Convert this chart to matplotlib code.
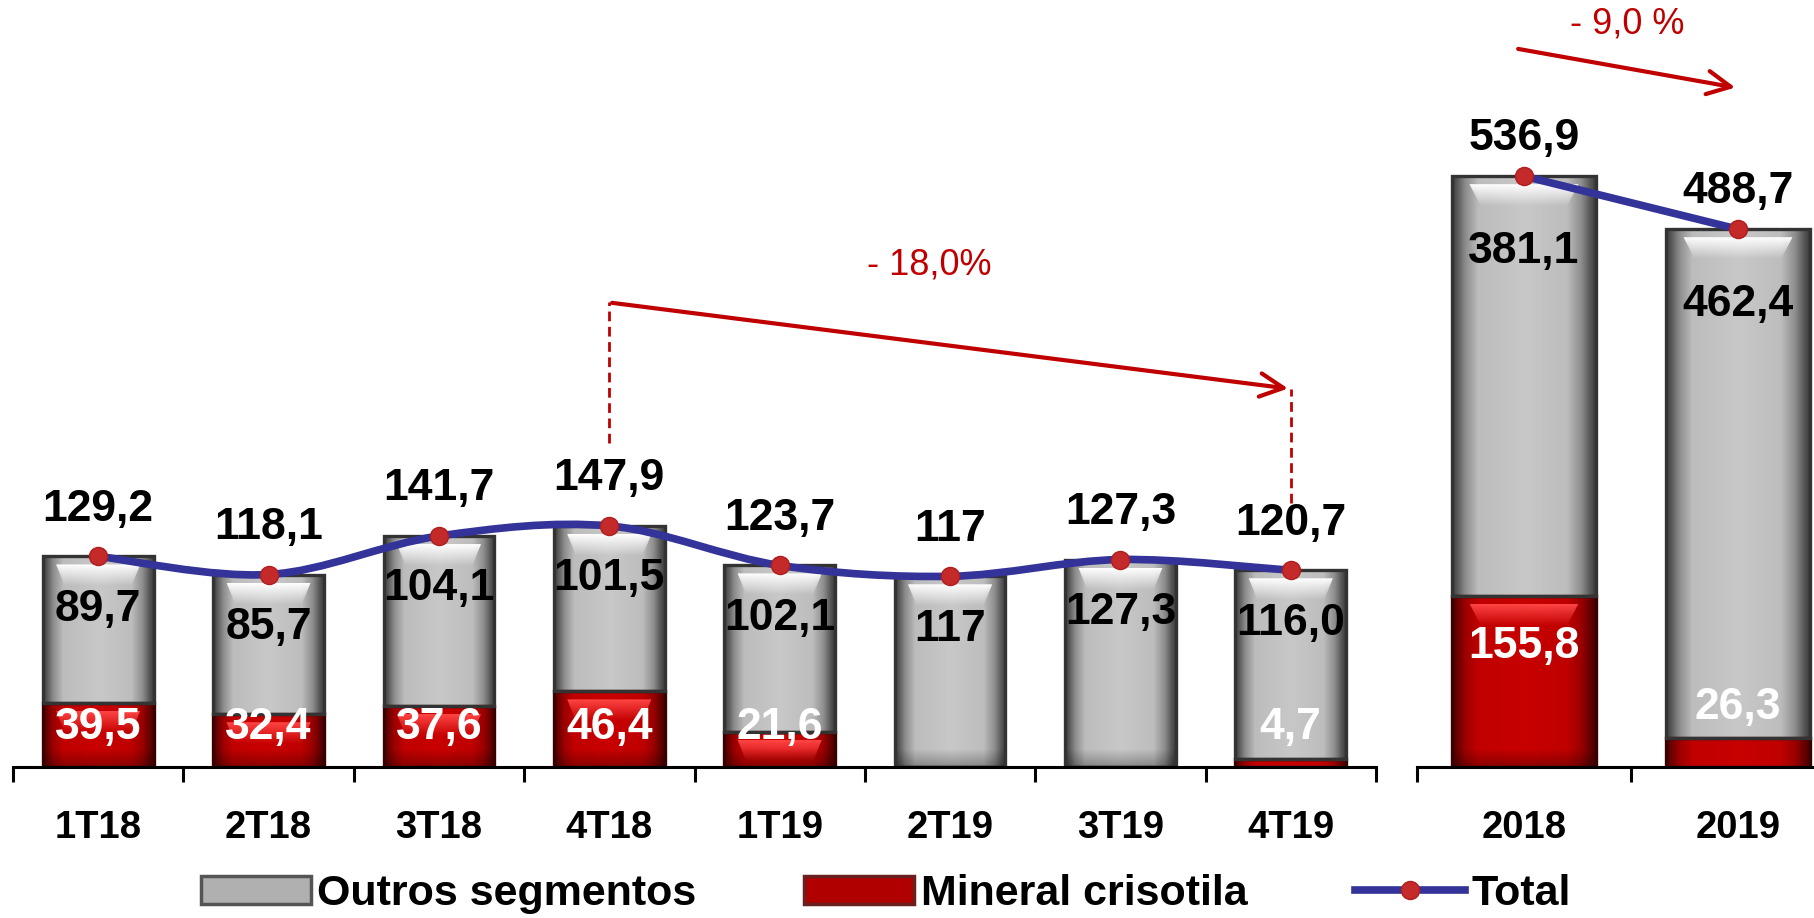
import matplotlib
matplotlib.use("Agg")
import matplotlib.pyplot as plt
import numpy as np
from matplotlib.colors import to_rgb
from matplotlib.lines import Line2D
from matplotlib.patches import PathPatch, Patch, Polygon
from matplotlib.path import Path

plt.rcParams["font.family"] = ["Liberation Sans", "DejaVu Sans"]

# Quarterly values
QUARTERS = ["1T18", "2T18", "3T18", "4T18", "1T19", "2T19", "3T19", "4T19"]
Q_OUTROS = [89.7, 85.7, 104.1, 101.5, 102.1, 117, 127.3, 116.0]
Q_CRISOTILA = [39.5, 32.4, 37.6, 46.4, 21.6, 0, 0, 4.7]
Q_TOTAL = [129.2, 118.1, 141.7, 147.9, 123.7, 117, 127.3, 120.7]

# Annual values
YEARS = ["2018", "2019"]
Y_OUTROS = [381.1, 462.4]
Y_CRISOTILA = [155.8, 26.3]
Y_TOTAL = [536.9, 488.7]

RED = "#C00000"
BLUE = "#333399"
GRAY_STOPS = [(0, "#3c3c3c"), (0.04, "#5e5e5e"), (0.09, "#8c8c8c"), (0.18, "#bcbcbc"),
              (0.5, "#c8c8c8"), (0.8, "#bdbdbd"), (0.9, "#8e8e8e"), (0.96, "#5a5a5a"), (1, "#3c3c3c")]
RED_STOPS = [(0, "#4a0000"), (0.04, "#700000"), (0.09, "#9c0000"), (0.18, "#c00000"),
             (0.5, "#c80000"), (0.8, "#bf0000"), (0.9, "#9a0000"), (0.96, "#6a0000"), (1, "#4a0000")]


def fmt(v):
    if isinstance(v, int):
        return str(v)
    return f"{v:.1f}".replace(".", ",")


def gradient(stops):
    xs = np.linspace(0, 1, 128)
    pos = [p for p, _ in stops]
    cols = np.array([to_rgb(c) for _, c in stops])
    return np.stack([np.interp(xs, pos, cols[:, k]) for k in range(3)], axis=-1)[None, :, :]


def fade(color, a_top, a_bottom):
    rgba = np.zeros((64, 1, 4))
    rgba[..., :3] = to_rgb(color)
    rgba[:, 0, 3] = np.linspace(a_top, a_bottom, 64)
    return rgba


def shade(ax, bars, stops, glow, edge, ppu):
    img = gradient(stops)
    glow_img = fade(glow, 1.0, 0.0)
    dark_img = fade("black", 0.0, 0.3)
    for b in bars:
        h = b.get_height()
        if h <= 0:
            continue
        x0, y0, w = b.get_x(), b.get_y(), b.get_width()
        im = ax.imshow(img, extent=(x0, x0 + w, y0, y0 + h), aspect="auto",
                       interpolation="bilinear", zorder=2.1)
        im.set_clip_path(b)
        if h * ppu > 34:
            top = y0 + h
            y_a, y_b = top - 8 / ppu, top - 30 / ppu
            trap = Polygon([(x0 + 0.12 * w, y_a), (x0 + 0.88 * w, y_a),
                            (x0 + 0.80 * w, y_b), (x0 + 0.20 * w, y_b)],
                           closed=True, facecolor="none", edgecolor="none")
            ax.add_patch(trap)
            g = ax.imshow(glow_img, extent=(x0, x0 + w, y_b, y_a), aspect="auto",
                          interpolation="bilinear", zorder=2.2)
            g.set_clip_path(trap)
        if y0 == 0 and h * ppu > 34:
            d = ax.imshow(dark_img, extent=(x0, x0 + w, 0, 18 / ppu), aspect="auto",
                          interpolation="bilinear", zorder=2.2)
            d.set_clip_path(b)
    ax.bar([b.get_x() + b.get_width() / 2 for b in bars],
           [b.get_height() for b in bars], bottom=[b.get_y() for b in bars],
           width=bars[0].get_width(), fill=False, edgecolor=edge, linewidth=2.4, zorder=2.3)


def smooth_path(xs, ys):
    pts = np.column_stack([xs, ys]).astype(float)
    verts, codes = [pts[0]], [Path.MOVETO]
    n = len(pts)
    for i in range(n - 1):
        p0, p1 = pts[max(i - 1, 0)], pts[i]
        p2, p3 = pts[i + 1], pts[min(i + 2, n - 1)]
        verts += [p1 + (p2 - p0) / 6, p2 - (p3 - p1) / 6, p2]
        codes += [Path.CURVE4] * 3
    return Path(verts, codes)


def panel(ax, cats, outros, cris, total, width, ymax, tot_off, out_off, red_frac, red_floor):
    x = np.arange(len(cats))
    ax.set_xlim(-0.5, len(cats) - 0.5)
    ax.set_ylim(0, ymax)
    fig = ax.figure
    ppu = ax.get_position().height * fig.get_figheight() * fig.dpi / ymax  # pixels per unit

    red_bars = ax.bar(x, cris, width=width, color=RED, zorder=2)
    gray_bars = ax.bar(x, outros, bottom=cris, width=width, color="#c4c4c4", zorder=2)
    shade(ax, red_bars, RED_STOPS, "#ff4545", "#3a0000", ppu)
    shade(ax, gray_bars, GRAY_STOPS, "#ffffff", "#333333", ppu)

    ax.add_patch(PathPatch(smooth_path(x, total), fill=False, edgecolor=BLUE,
                           linewidth=5.5, zorder=5, capstyle="round"))
    ax.plot(x, total, "o", color="#c42a2a", markersize=13, markeredgecolor="#b01e1e", zorder=6)

    bold = dict(fontsize=32, fontweight="bold", ha="center", va="center", zorder=7)
    for xi, t, o, r in zip(x, total, outros, cris):
        ax.annotate(fmt(t), (xi, t), xytext=(0, tot_off), textcoords="offset points",
                    color="black", **bold)
        ax.annotate(fmt(o), (xi, t), xytext=(0, out_off), textcoords="offset points",
                    color="black", **bold)
        if r > 0:
            yr = max(red_frac * r, red_floor / ppu)
            ax.text(xi, yr, fmt(r), color="white", **bold)

    for s in ("top", "left", "right"):
        ax.spines[s].set_visible(False)
    ax.spines["bottom"].set_linewidth(2.2)
    ax.set_yticks([])
    ax.set_xticks(x)
    ax.set_xticklabels(cats, fontsize=27.5, fontweight="bold")
    ax.set_xticks(np.arange(len(cats) + 1) - 0.5, minor=True)
    ax.tick_params(axis="x", which="major", length=0, pad=31)
    ax.tick_params(axis="x", which="minor", length=11, width=2.2, direction="out")
    ax.patch.set_alpha(0)


fig = plt.figure(figsize=(18.14, 9.18), dpi=100)
ax1 = fig.add_axes([13 / 1814, 151 / 918, 1363 / 1814, 767 / 918])
ax2 = fig.add_axes([1417 / 1814, 151 / 918, 428 / 1814, 767 / 918])

panel(ax1, QUARTERS, Q_OUTROS, Q_CRISOTILA, Q_TOTAL, 0.65, 470.6, 34, -38, 0, 40)
panel(ax2, YEARS, Y_OUTROS, Y_CRISOTILA, Y_TOTAL, 0.67, 697, 27, -54, 0.7, 59)

# Variation arrows
arrow_kw = dict(arrowstyle="->", color=RED, lw=3, mutation_scale=42)
ax1.annotate("", xy=(7, 232), xytext=(3, 285), arrowprops=arrow_kw, zorder=8)
ax1.plot([3, 3], [199, 285], ls=(0, (3.5, 2)), color=RED, lw=2, zorder=8)
ax1.plot([7, 7], [162, 232], ls=(0, (3.5, 2)), color=RED, lw=2, zorder=8)
ax1.text(4.88, 308, "- 18,0%", color=RED, fontsize=26, ha="center", va="center")

ax2.annotate("", xy=(1.0, 617), xytext=(-0.04, 653), arrowprops=arrow_kw, zorder=8)
ax2.text(0.48, 675, "- 9,0 %", color=RED, fontsize=26, ha="center", va="center")

handles = [
    Patch(facecolor="#b0b0b0", edgecolor="#555555", linewidth=2.5),
    Patch(facecolor="#b00000", edgecolor="#6a2020", linewidth=2.5),
    Line2D([], [], color=BLUE, lw=5.5, marker="o", markersize=13,
           markerfacecolor="#c42a2a", markeredgecolor="#b01e1e"),
]
fig.legend(handles, ["Outros segmentos", "Mineral crisotila", "Total"],
           loc="center", bbox_to_anchor=(0.4884, 1 - 894 / 918), ncol=3, frameon=False,
           prop=dict(size=31, weight="bold"), handlelength=2.56, handleheight=0.65,
           columnspacing=2.5, handletextpad=0.15, borderpad=0)

fig.savefig("out.png", dpi=100)
